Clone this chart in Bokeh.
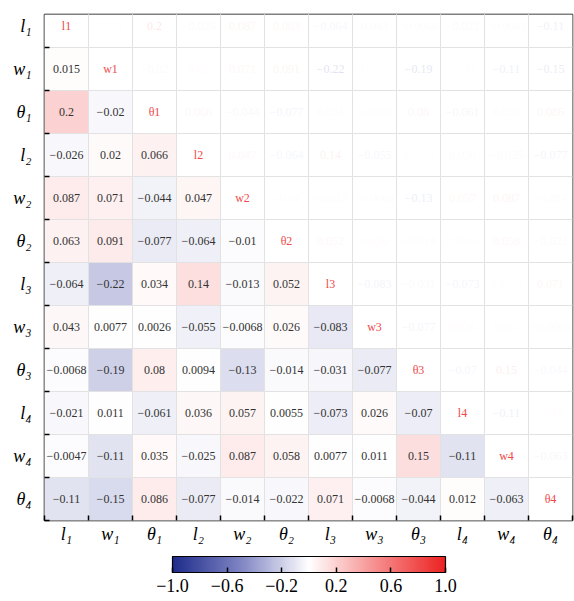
import numpy as np
from bokeh.plotting import figure
from bokeh.models import (ColumnDataSource, LinearColorMapper, ColorBar, FixedTicker,
                          Range1d)
from bokeh.core.properties import value
from bokeh.embed import file_html
from bokeh.resources import INLINE

# ---- data ----
var_names = ["l1", "w1", "θ1", "l2", "w2", "θ2", "l3", "w3", "θ3", "l4", "w4", "θ4"]
tick_labels = ["l₁", "w₁", "θ₁", "l₂", "w₂", "θ₂", "l₃", "w₃", "θ₃", "l₄", "w₄", "θ₄"]
row_w1 = [0.015]
row_theta1 = [0.2, -0.02]
row_l2 = [-0.026, 0.02, 0.066]
row_w2 = [0.087, 0.071, -0.044, 0.047]
row_theta2 = [0.063, 0.091, -0.077, -0.064, -0.01]
row_l3 = [-0.064, -0.22, 0.034, 0.14, -0.013, 0.052]
row_w3 = [0.043, 0.0077, 0.0026, -0.055, -0.0068, 0.026, -0.083]
row_theta3 = [-0.0068, -0.19, 0.08, 0.0094, -0.13, -0.014, -0.031, -0.077]
row_l4 = [-0.021, 0.011, -0.061, 0.036, 0.057, 0.0055, -0.073, 0.026, -0.07]
row_w4 = [-0.0047, -0.11, 0.035, -0.025, 0.087, 0.058, 0.0077, 0.011, 0.15, -0.11]
row_theta4 = [-0.11, -0.15, 0.086, -0.077, -0.014, -0.022, 0.071, -0.0068, -0.044, 0.012, -0.063]
lower_rows = [[], row_w1, row_theta1, row_l2, row_w2, row_theta2, row_l3, row_w3,
              row_theta3, row_l4, row_w4, row_theta4]
cbar_ticks = [-1.0, -0.6, -0.2, 0.2, 0.6, 1.0]
cbar_labels = ["−1.0", "−0.6", "−0.2", "0.2", "0.6", "1.0"]

n = len(var_names)
corr = np.eye(n)
for i, row in enumerate(lower_rows):
    for j, v in enumerate(row):
        corr[i, j] = v
        corr[j, i] = v

# ---- colormap (navy - white - red) ----
anchors_v = [-1.0, -0.5, 0.0, 0.5, 1.0]
anchors_c = [(30, 45, 140), (128, 133, 195), (255, 255, 255), (246, 140, 140), (236, 34, 34)]
palette = []
for k in range(256):
    t = -1 + 2 * k / 255
    rgb = [int(round(np.interp(t, anchors_v, [c[ch] for c in anchors_c]))) for ch in range(3)]
    palette.append("#%02x%02x%02x" % tuple(rgb))


def cmap(v):
    idx = int(np.clip((v + 1) / 2 * 255, 0, 255))
    return palette[idx]


def fmt(v):
    return format(v, ".2g").replace("-", "−")


# ---- build sources ----
cx, cy, cfill = [], [], []
lx, ly, ltext = [], [], []
ux, uy, utext, ucol = [], [], [], []
dx, dy, dtext = [], [], []
for i in range(n):
    for j in range(n):
        x = j
        y = n - 1 - i
        cx.append(x)
        cy.append(y)
        if i > j:
            cfill.append(cmap(corr[i, j]))
            lx.append(x); ly.append(y); ltext.append(fmt(corr[i, j]))
        elif i == j:
            cfill.append("#ffffff")
            dx.append(x); dy.append(y); dtext.append(var_names[i])
        else:
            cfill.append("#ffffff")
            ux.append(x); uy.append(y); utext.append(fmt(corr[i, j])); ucol.append(cmap(corr[i, j]))

p = figure(output_backend="svg", toolbar_location=None,
           frame_width=528, frame_height=506,
           x_range=Range1d(-0.5, n - 0.5), y_range=Range1d(-0.5, n - 0.5 - 10 / 43),
           min_border_left=44, min_border_right=2, min_border_top=14, min_border_bottom=2)

p.rect(x="x", y="y", width=1, height=1, fill_color="c", line_color="#e2e2e2", line_width=1,
       source=ColumnDataSource(dict(x=cx, y=cy, c=cfill)))

p.text(x="x", y="y", text="t", text_color="#333333", text_align="center", text_baseline="middle",
       text_font=value("Liberation Serif"), text_font_size="12px",
       source=ColumnDataSource(dict(x=lx, y=ly, t=ltext)))
p.text(x="x", y="y", text="t", text_color="c", text_alpha=0.5, text_align="center",
       text_baseline="middle",
       text_font=value("Liberation Serif"), text_font_size="12px",
       source=ColumnDataSource(dict(x=ux, y=uy, t=utext, c=ucol)))
p.text(x="x", y="y", text="t", text_color="#f04a4a", text_align="center", text_baseline="middle",
       text_font=value("Liberation Serif"), text_font_size="12px",
       source=ColumnDataSource(dict(x=dx, y=dy, t=dtext)))

p.grid.visible = False
p.outline_line_color = "black"
p.outline_line_width = 1.5
p.outline_line_alpha = 1

p.xaxis.ticker = FixedTicker(ticks=list(range(n)), minor_ticks=[k + 0.5 for k in range(-1, n)])
p.yaxis.ticker = FixedTicker(ticks=list(range(n)), minor_ticks=[k + 0.5 for k in range(-1, n)])
p.xaxis.major_label_overrides = {k: tick_labels[k] for k in range(n)}
p.yaxis.major_label_overrides = {n - 1 - k: tick_labels[k] for k in range(n)}
for ax in (p.xaxis, p.yaxis):
    ax.axis_line_color = None
    ax.major_tick_line_color = None
    ax.minor_tick_line_color = "black"
    ax.minor_tick_line_width = 1.5
    ax.minor_tick_in = 5
    ax.minor_tick_out = 0
    ax.major_label_text_font = "Liberation Serif"
    ax.major_label_text_font_style = "italic"
    ax.major_label_text_font_size = "18px"
    ax.major_label_text_color = "black"
p.xaxis.major_label_standoff = -3
p.yaxis.major_label_standoff = 7

mapper = LinearColorMapper(palette=palette, low=-1, high=1)
cb = ColorBar(color_mapper=mapper, orientation="horizontal", width=273, height=16,
              location=(118, 0), padding=10,
              ticker=FixedTicker(ticks=cbar_ticks),
              major_label_overrides={t: l for t, l in zip(cbar_ticks, cbar_labels)},
              major_label_text_font="Liberation Serif", major_label_text_font_size="18px",
              major_label_text_color="black",
              major_tick_in=5, major_tick_out=0, major_tick_line_color="black",
              major_tick_line_width=1.5,
              bar_line_color="black", bar_line_width=1.2,
              border_line_color=None, background_fill_color=None,
              label_standoff=6)
p.add_layout(cb, "below")

open("out.html", "w").write(file_html(p, INLINE))
